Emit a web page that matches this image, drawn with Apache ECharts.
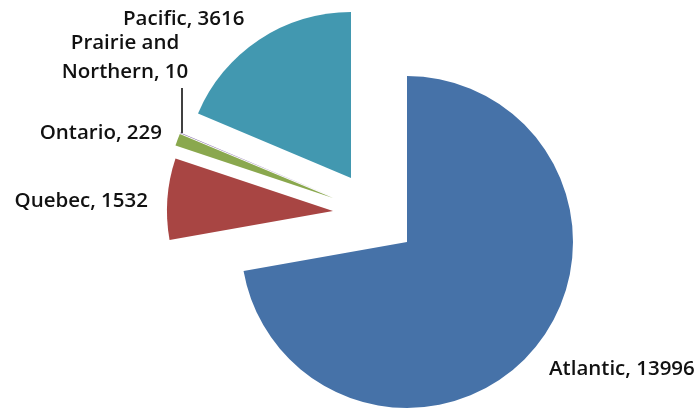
<!DOCTYPE html>
<html>
<head>
<meta charset="utf-8">
<script src="https://cdn.jsdelivr.net/npm/echarts/dist/echarts.min.js"></script>
<style>
  html, body { margin: 0; padding: 0; background: #fff; }
  #chart_regions { width: 699px; height: 409px; }
</style>
</head>
<body>
<div id="chart_regions"></div>
<script>
var regionNames = ['Atlantic', 'Quebec', 'Ontario', 'Prairie and Northern', 'Pacific'];
var regionLabels = ['Atlantic', 'Quebec', 'Ontario', 'Prairie and\nNorthern', 'Pacific'];
var regionValues = [13996, 1532, 229, 10, 3616];

var sliceColors = ['#4672a8', '#a84543', '#8aa84e', '#7d64a0', '#4298b0'];
// exploded slices: each one drawn on its own pie centre
var sliceCenters = [[407, 242], [333, 211], [333, 198], [333, 197], [351, 178]];
var labelSpots = [
    { x: 549, y: 369, align: 'left' },
    { x: 148, y: 201, align: 'right' },
    { x: 162, y: 133, align: 'right' },
    { x: 125, y: 58, align: 'center' },
    { x: 123, y: 19, align: 'left' }
];

var chart_regions = echarts.init(document.getElementById('chart_regions'));

function buildSeries(k) {
    var data = [];
    for (var j = 0; j < regionValues.length; j++) {
        data.push({
            name: regionNames[j],
            value: regionValues[j],
            itemStyle: { color: j === k ? sliceColors[j] : 'rgba(0,0,0,0)' },
            label: { show: j === k },
            labelLine: { show: j === k && k === 3 }
        });
    }
    return {
        type: 'pie',
        center: sliceCenters[k],
        radius: 166,
        startAngle: 90,
        clockwise: true,
        avoidLabelOverlap: false,
        silent: true,
        animation: false,
        label: {
            position: 'outside',
            color: '#111',
            fontFamily: 'Open Sans',
            fontWeight: 600,
            fontSize: 20.5,
            lineHeight: 29,
            formatter: function (p) {
                return regionLabels[p.dataIndex] + ', ' + p.value;
            }
        },
        labelLine: {
            lineStyle: { color: '#000', width: 1.5 }
        },
        labelLayout: function (params) {
            var s = labelSpots[params.dataIndex];
            var out = { x: s.x, y: s.y, align: s.align, verticalAlign: 'middle' };
            if (params.dataIndex === 3) {
                out.labelLinePoints = [[182, 88], [182, 110], [182, 133]];
            }
            return out;
        },
        data: data
    };
}

var series = [];
for (var i = 0; i < regionValues.length; i++) {
    series.push(buildSeries(i));
}

chart_regions.setOption({
    backgroundColor: '#fff',
    series: series
});
</script>
</body>
</html>
